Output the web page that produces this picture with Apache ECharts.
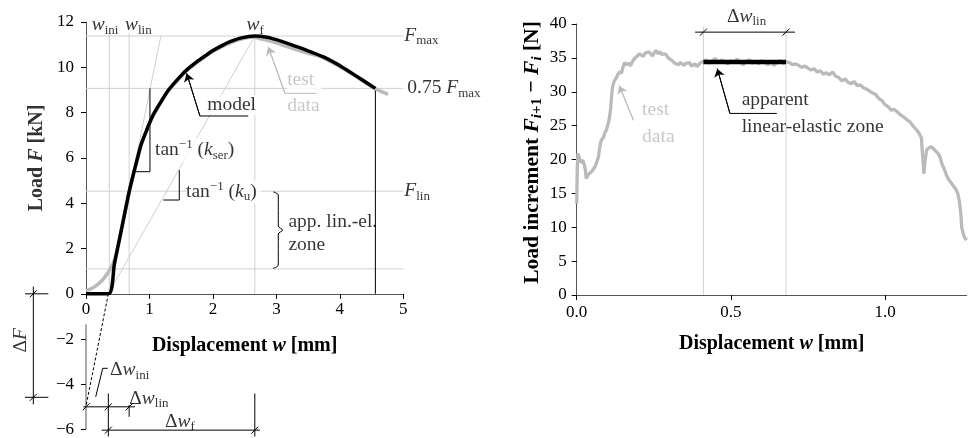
<!DOCTYPE html>
<html>
<head>
<meta charset="utf-8">
<script src="https://cdn.jsdelivr.net/npm/echarts@6/dist/echarts.min.js"></script>
<style>
  html, body { margin: 0; padding: 0; background: #fff; }
  #chart { width: 970px; height: 438px; }
</style>
</head>
<body>
<div id="chart"></div>
<script>
// left panel: load F [kN] vs displacement w [mm]
const modelCurve = [
  [0, 0], [0.352, 0], [0.45, 1.35], [0.55, 2.72], [0.65, 4.1], [0.7, 4.75], [0.75, 5.32],
  [0.8, 5.87], [0.87, 6.6], [0.956, 7.23], [1.05, 7.85], [1.166, 8.41], [1.3, 9.0],
  [1.48, 9.58], [1.6, 9.92], [1.744, 10.24], [1.9, 10.55], [2.0, 10.74], [2.15, 10.97],
  [2.27, 11.13], [2.45, 11.3], [2.66, 11.38], [2.85, 11.33], [3.0, 11.22], [3.21, 11.02],
  [3.45, 10.78], [3.74, 10.46], [3.95, 10.16], [4.11, 9.88], [4.35, 9.45], [4.56, 9.07]
];
const testCurve = [
  [0, 0.13], [0.08, 0.22], [0.16, 0.36], [0.24, 0.55], [0.3, 0.75], [0.35, 0.95], [0.4, 1.18],
  [0.44, 1.42], [0.5, 2.05], [0.55, 2.72], [0.65, 4.1], [0.7, 4.75], [0.75, 5.3], [0.8, 5.85],
  [0.87, 6.57], [0.956, 7.2], [1.05, 7.82], [1.166, 8.38], [1.3, 8.97], [1.48, 9.54],
  [1.6, 9.88], [1.744, 10.2], [2.0, 10.7], [2.27, 11.08], [2.45, 11.25], [2.62, 11.34],
  [2.75, 11.26], [2.95, 11.12], [3.2, 10.88], [3.45, 10.66], [3.74, 10.42], [3.95, 10.1],
  [4.11, 9.85], [4.35, 9.42], [4.56, 9.05], [4.76, 8.8]
];
const F_MAX = 11.38;
const F_075 = 9.07;
const F_LIN = 4.53;
const F_LOW = 1.1;
const W_0 = 0.352;
const W_INI = 0.367;
const W_LIN = 0.68;
const W_F = 2.66;
const W_END = 4.56;
const DELTA_F = -4.57;
const leftX = [0, 5, 1];       // min, max, step
const leftYUpper = [0, 12, 2];
const leftYLower = [-6, 0, 2];

// right panel: load increment [N] vs displacement w [mm]
const incDisp = [
  0.000, 0.002, 0.004, 0.008, 0.012, 0.016, 0.020, 0.024, 0.028, 0.031, 0.035, 0.040, 0.045,
  0.050, 0.055, 0.060, 0.065, 0.070, 0.074, 0.078, 0.082, 0.087, 0.092, 0.097, 0.102, 0.106,
  0.110, 0.113, 0.116, 0.120, 0.125, 0.130, 0.135, 0.140, 0.145, 0.150, 0.155, 0.160, 0.165,
  0.170, 0.175, 0.180, 0.186, 0.192, 0.198, 0.204, 0.210, 0.216, 0.222, 0.228, 0.234, 0.240,
  0.246, 0.252, 0.258, 0.264, 0.270, 0.276, 0.282, 0.288, 0.294, 0.300, 0.306, 0.312, 0.318,
  0.324, 0.330, 0.336, 0.342, 0.348, 0.354, 0.360, 0.366, 0.372, 0.378, 0.384, 0.390, 0.396,
  0.402, 0.408, 0.42, 0.43, 0.44, 0.45, 0.46, 0.47, 0.48, 0.49, 0.50, 0.51, 0.52, 0.53, 0.54,
  0.55, 0.56, 0.57, 0.58, 0.59, 0.60, 0.61, 0.62, 0.63, 0.64, 0.65, 0.66, 0.67, 0.68, 0.69,
  0.70, 0.71, 0.72, 0.73, 0.74, 0.75, 0.76, 0.77, 0.78, 0.79, 0.80, 0.81, 0.82, 0.83, 0.84,
  0.85, 0.86, 0.87, 0.88, 0.89, 0.90, 0.91, 0.92, 0.93, 0.94, 0.95, 0.96, 0.97, 0.98, 0.99,
  1.00, 1.01, 1.02, 1.03, 1.04, 1.05, 1.06, 1.07, 1.08, 1.09, 1.10, 1.11, 1.118, 1.122, 1.126,
  1.130, 1.135, 1.142, 1.150, 1.157, 1.165, 1.172, 1.178, 1.185, 1.192, 1.200, 1.207, 1.214,
  1.222, 1.230, 1.236, 1.242, 1.246, 1.249, 1.253, 1.258, 1.265
];
const incLoad = [
  13.5, 19.0, 20.9, 20.3, 19.6, 19.4, 19.9, 19.3, 18.5, 17.2, 17.4, 17.9, 17.7,
  18.3, 18.5, 19.0, 19.6, 20.3, 21.5, 22.6, 23.0, 23.3, 24.0, 24.4, 25.3, 26.1,
  27.5, 29.2, 30.6, 31.4, 31.8, 32.2, 32.7, 33.0, 32.7, 33.6, 34.3, 34.0, 33.9,
  34.2, 33.8, 34.4, 34.8, 35.1, 35.0, 35.6, 35.4, 35.2, 35.7, 35.5, 35.9, 35.6,
  35.3, 35.8, 36.1, 35.6, 35.9, 35.5, 35.3, 35.6, 35.2, 34.9, 35.0, 34.5, 34.2,
  34.4, 34.0, 34.3, 34.1, 33.9, 34.2, 34.0, 34.3, 33.8, 33.6, 34.1, 33.7, 34.0,
  34.3, 34.5, 34.7, 34.2, 34.6, 34.9, 34.3, 34.7, 34.5, 34.1, 34.6, 34.3, 34.8, 34.4, 34.0,
  34.5, 34.7, 34.2, 34.5, 34.1, 34.6, 34.3, 34.0, 34.4, 33.9, 34.3, 34.6, 34.2, 34.4, 34.3,
  34.0, 34.1, 33.9, 33.6, 33.8, 33.5, 33.2, 33.4, 32.9, 33.1, 32.6, 32.8, 32.5, 32.9, 32.3,
  32.1, 31.6, 31.9, 31.4, 31.2, 31.5, 30.9, 31.0, 30.6, 30.4, 30.1, 29.8, 29.6, 29.0, 28.7,
  28.1, 27.8, 27.3, 27.4, 27.0, 26.6, 26.3, 25.9, 25.6, 25.0, 24.5, 23.9, 23.2, 20.5, 17.9,
  19.8, 21.4, 21.7, 21.9, 21.6, 21.2, 20.9, 20.4, 19.3, 18.6, 17.6, 17.0, 16.6,
  16.1, 15.6, 15.0, 13.6, 12.0, 9.9, 9.2, 8.5, 8.1
];
const LIN_START = 0.411;
const LIN_END = 0.679;
const LIN_LEVEL = 34.4;
const rightX = [0, 1.265, 0.5];
const rightY = [0, 40, 5];

const W = 970, H = 438;
// left panel frame in pixels (axis 0..5 horizontally, 12 / 0 / -6 vertically)
const PL = { x0: 86, x5: 403.3, y12: 22, y0: 293.8, yM6: 429.7 };
const unitX = (PL.x5 - PL.x0) / 5;
const unitY = (PL.y0 - PL.y12) / 12;

const FONT = 'Liberation Serif';
const INK = '#000';
const AXIS = '#555';
const REF = '#d0d0d0';
const TEST = '#bababa';
const SLASH = 'path://M0,10L10,0';
const G_A = 0, G_B = 1, G_L = 2, G_R = 3;

const RICH = {
  it: { fontStyle: 'italic' },
  sub: { fontSize: 13, padding: [10, 0, 0, 0] },
  sup: { fontSize: 13, padding: [0, 0, 11, 0] }
};

const chart = echarts.init(document.getElementById('chart'));

function seg(g, pts, color, width, extra) {
  return Object.assign({
    type: 'line', xAxisIndex: g, yAxisIndex: g, data: pts, symbol: 'none',
    clip: false, silent: true, animation: false, z: 3,
    lineStyle: { color: color, width: width }
  }, extra || {});
}

// dimension line: ticks drawn as slashes, ends plain
function dim(g, pts, tickIdx) {
  const data = pts.map((p, i) => tickIdx.includes(i) ? { value: p } : { value: p, symbol: 'none' });
  return seg(g, data, INK, 1, {
    symbol: SLASH, symbolSize: 7, showSymbol: true, showAllSymbol: true,
    itemStyle: { color: 'none', borderColor: INK, borderWidth: 1 }
  });
}

function arrow(g, from, to, color) {
  return seg(g, [from, to], color, 1, {
    z: 5,
    markLine: {
      silent: true, animation: false, symbol: ['none', 'arrow'], symbolSize: 8,
      lineStyle: { color: color, width: 1, type: 'solid' }, label: { show: false },
      data: [[{ coord: from }, { coord: to }]]
    }
  });
}

function txt(g, at, text, label, z) {
  return {
    type: 'scatter', xAxisIndex: g, yAxisIndex: g, data: [at], symbolSize: 0,
    clip: false, silent: true, animation: false, z: z || 2,
    label: Object.assign({
      show: true, formatter: text, fontFamily: FONT, fontSize: 19.5, color: INK,
      rich: RICH, position: 'right', distance: 0
    }, label || {})
  };
}

const tickFont = { fontFamily: FONT, fontSize: 17, color: INK };
const titleRich = {
  b: { fontWeight: 'bold' },
  bi: { fontWeight: 'bold', fontStyle: 'italic' },
  bsub: { fontWeight: 'bold', fontSize: 15, padding: [10, 0, 0, 0] },
  bisub: { fontWeight: 'bold', fontStyle: 'italic', fontSize: 15, padding: [10, 0, 0, 0] }
};
const titleStyle = { fontFamily: FONT, fontSize: 20, fontWeight: 'bold', color: INK, rich: titleRich };

const series = [
  // ---- left panel reference lines
  seg(G_L, [[0, F_MAX], [5, F_MAX]], REF, 1, { z: 1 }),
  seg(G_L, [[0, F_075], [5, F_075]], REF, 1, { z: 1 }),
  seg(G_L, [[0, F_LIN], [5, F_LIN]], REF, 1, { z: 1 }),
  seg(G_L, [[0, F_LOW], [5, F_LOW]], REF, 1, { z: 1 }),
  seg(G_L, [[W_INI, 0], [W_INI, 11.5]], REF, 1, { z: 1 }),
  seg(G_L, [[W_LIN, 0], [W_LIN, 11.5]], REF, 1, { z: 1 }),
  seg(G_L, [[W_F, 0], [W_F, F_MAX]], REF, 1, { z: 1 }),
  seg(G_L, [[W_0, 0], [1.18, F_MAX]], REF, 1, { z: 1 }),
  seg(G_L, [[W_0, 0], [W_F, F_MAX]], REF, 1, { z: 1 }),
  // lower part of the load axis, broken under the x label "0"
  seg(G_L, [[0, -1.35], [0, -6]], AXIS, 1),
  // slope triangles and end line
  seg(G_L, [[0.772, 5.39], [1.008, 5.39], [1.008, F_075]], INK, 1),
  seg(G_L, [[1.218, 4.14], [1.47, 4.14], [1.47, 5.46]], INK, 1),
  seg(G_L, [[W_END, 0], [W_END, F_075]], INK, 1),
  seg(G_L, [[W_0, 0], [0, -4.96]], INK, 1, { lineStyle: { color: INK, width: 1, type: [3, 2] } }),
  // brace
  seg(G_L, [[2.951, 4.5], [3.03, 4.36], [3.03, 2.99], [3.099, 2.81], [3.03, 2.64], [3.03, 1.27], [2.951, 1.12]], INK, 1, { smooth: 0.3 }),
  // dimensions
  dim(G_L, [[-0.83, 0.32], [-0.83, 0], [-0.83, DELTA_F], [-0.83, -4.88]], [1, 2]),
  seg(G_L, [[-0.961, 0], [-0.594, 0]], INK, 1),
  seg(G_L, [[-0.961, DELTA_F], [-0.594, DELTA_F]], INK, 1),
  dim(G_L, [[-0.042, -4.99], [0, -4.99], [W_0, -4.99], [W_LIN, -4.99], [0.772, -4.99]], [1, 2, 3]),
  dim(G_L, [[0.247, -6.02], [W_0, -6.02], [W_F, -6.02], [2.74, -6.02]], [1, 2]),
  seg(G_L, [[W_0, -4.4], [W_0, -6.3]], INK, 1),
  seg(G_L, [[W_LIN, -4.91], [W_LIN, -5.43]], INK, 1),
  seg(G_L, [[W_F, -4.4], [W_F, -6.3]], INK, 1),
  seg(G_L, [[0.342, -3.29], [0.263, -3.29], [0.153, -4.55]], INK, 1),
  // curves
  seg(G_L, testCurve, TEST, 3.5, { z: 4, smooth: 0.3 }),
  seg(G_L, modelCurve, INK, 3.5, { z: 4, smooth: 0.3 }),
  // leaders
  seg(G_L, [[2.557, 7.85], [1.795, 7.85]], INK, 1, { z: 5 }),
  arrow(G_L, [1.795, 7.85], [1.587, 9.73], INK),
  seg(G_L, [[3.634, 8.85], [3.135, 8.85]], TEST, 1, { z: 5 }),
  arrow(G_L, [3.135, 8.85], [2.872, 10.905], TEST),
  // left labels
  txt(G_L, [0.09, 11.86], '{it|w}{sub|ini}'),
  txt(G_L, [0.614, 11.86], '{it|w}{sub|lin}'),
  txt(G_L, [2.53, 11.86], '{it|w}{sub|f}'),
  txt(G_L, [5, F_MAX], '{it|F}{sub|max}', { distance: 1 }),
  txt(G_L, [5, F_075], '0.75 {it|F}{sub|max}', { distance: 4 }),
  txt(G_L, [5, F_LIN], '{it|F}{sub|lin}', { distance: 1 }),
  txt(G_L, [1.911, 8.33], 'model', { backgroundColor: '#fff' }),
  txt(G_L, [3.17, 8.85], 'test\ndata', { color: TEST, lineHeight: 26, backgroundColor: '#fff', padding: [0, 2, 0, 0] }),
  txt(G_L, [1.087, 6.34], 'tan{sup|−1} ({it|k}{sub|ser})', { backgroundColor: '#fff' }),
  txt(G_L, [1.576, 4.5], 'tan{sup|−1} ({it|k}{sub|u})', { backgroundColor: '#fff', padding: [0, 4, 0, 0] }),
  txt(G_L, [3.19, 2.67], 'app. lin.-el.\nzone', { lineHeight: 23, backgroundColor: '#fff', padding: [4, 5, 4, 0] }),
  txt(G_L, [-1.02, -2.05], 'Δ{it|F}', { position: 'inside', rotate: 90 }),
  txt(G_L, [0.378, -3.37], 'Δ{it|w}{sub|ini}'),
  txt(G_L, [0.682, -4.62], 'Δ{it|w}{sub|lin}'),
  txt(G_L, [1.48, -5.65], 'Δ{it|w}{sub|f}', { position: 'inside' }),
  txt(G_L, [-0.777, 6.0], '{b|Load }{bi|F}{b| [kN]}', { position: 'inside', rotate: 90, fontSize: 20, fontWeight: 'bold', rich: titleRich }),

  // ---- right panel
  seg(G_R, [[LIN_START, 0], [LIN_START, 39.6]], REF, 1, { z: 1 }),
  seg(G_R, [[LIN_END, 0], [LIN_END, 39.6]], REF, 1, { z: 1 }),
  dim(G_R, [[0.384, 38.8], [LIN_START, 38.8], [LIN_END, 38.8], [0.708, 38.8]], [1, 2]),
  seg(G_R, incDisp.map((w, i) => [w, incLoad[i]]), TEST, 3.3, { z: 4 }),
  seg(G_R, [[LIN_START, LIN_LEVEL], [LIN_END, LIN_LEVEL]], INK, 4.5, { z: 5 }),
  seg(G_R, [[0.649, 26.8], [0.497, 26.8]], INK, 1, { z: 5 }),
  arrow(G_R, [0.497, 26.8], [0.456, 33.4], INK),
  arrow(G_R, [0.184, 25.8], [0.138, 30.9], TEST),
  txt(G_R, [0.551, 41.05], 'Δ{it|w}{sub|lin}', { position: 'inside' }),
  txt(G_R, [0.212, 25.3], 'test\ndata', { color: TEST, lineHeight: 27 }),
  txt(G_R, [0.535, 26.8], 'apparent\nlinear-elastic zone', { lineHeight: 27 })
];

const hidden = { show: false, type: 'value', splitLine: { show: false } };

chart.setOption({
  animation: false,
  backgroundColor: '#fff',
  grid: [
    { left: PL.x0, right: W - PL.x5, top: PL.y12, bottom: H - PL.y0, outerBoundsMode: 'none' },
    { left: PL.x0, right: W - PL.x5, top: PL.y0, bottom: H - PL.yM6, outerBoundsMode: 'none' },
    { left: 0, right: W - PL.x5, top: 0, bottom: 0, outerBoundsMode: 'none' },
    { left: 576.7, right: 3.3, top: 24, bottom: 143, outerBoundsMode: 'none' }
  ],
  xAxis: [
    {
      gridIndex: G_A, type: 'value', min: leftX[0], max: leftX[1], interval: leftX[2],
      axisLine: { onZero: false, lineStyle: { color: AXIS } },
      axisTick: { length: 5, lineStyle: { color: INK } },
      axisLabel: Object.assign({ margin: 7 }, tickFont),
      splitLine: { show: false },
      name: '{b|Displacement }{bi|w}{b| [mm]}', nameLocation: 'middle', nameGap: 42,
      nameTextStyle: titleStyle
    },
    Object.assign({ gridIndex: G_B, min: leftX[0], max: leftX[1] }, hidden),
    Object.assign({ gridIndex: G_L, min: -PL.x0 / unitX, max: 5 }, hidden),
    {
      gridIndex: G_R, type: 'value', min: rightX[0], max: rightX[1], interval: rightX[2],
      axisLine: { onZero: false, lineStyle: { color: AXIS } },
      axisTick: { length: 5, lineStyle: { color: INK } },
      axisLabel: Object.assign({ margin: 9, showMaxLabel: false, formatter: (v) => v.toFixed(1) }, tickFont),
      splitLine: { show: false },
      name: '{b|Displacement }{bi|w}{b| [mm]}', nameLocation: 'middle', nameGap: 39,
      nameTextStyle: titleStyle
    }
  ],
  yAxis: [
    {
      gridIndex: G_A, type: 'value', min: leftYUpper[0], max: leftYUpper[1], interval: leftYUpper[2],
      axisLine: { show: true, onZero: false, lineStyle: { color: AXIS } },
      axisTick: { show: true, length: 5, lineStyle: { color: INK } },
      axisLabel: Object.assign({ margin: 12 }, tickFont),
      splitLine: { show: false }
    },
    {
      gridIndex: G_B, type: 'value', min: leftYLower[0], max: leftYLower[1], interval: leftYLower[2],
      axisLine: { show: false },
      axisTick: { show: true, length: 5, lineStyle: { color: INK } },
      axisLabel: Object.assign({ margin: 12, showMaxLabel: false, formatter: (v) => String(v).replace('-', '−') }, tickFont),
      splitLine: { show: false }
    },
    Object.assign({ gridIndex: G_L, min: -(H - PL.y0) / unitY, max: 12 + PL.y12 / unitY }, hidden),
    {
      gridIndex: G_R, type: 'value', min: rightY[0], max: rightY[1], interval: rightY[2],
      axisLine: { show: true, onZero: false, lineStyle: { color: AXIS } },
      axisTick: { show: true, length: 5, lineStyle: { color: INK } },
      axisLabel: Object.assign({ margin: 10 }, tickFont),
      splitLine: { show: false },
      name: '{b|Load increment }{bi|F}{bisub|i}{bsub|+1}{b| − }{bi|F}{bisub|i}{b| [N]}',
      nameLocation: 'middle', nameGap: 32,
      nameTextStyle: Object.assign({}, titleStyle, { fontSize: 21.5, padding: [0, 0, 0, 14] })
    }
  ],
  series: series
});

window.addEventListener('resize', () => {
  chart.resize();
});
</script>
</body>
</html>
